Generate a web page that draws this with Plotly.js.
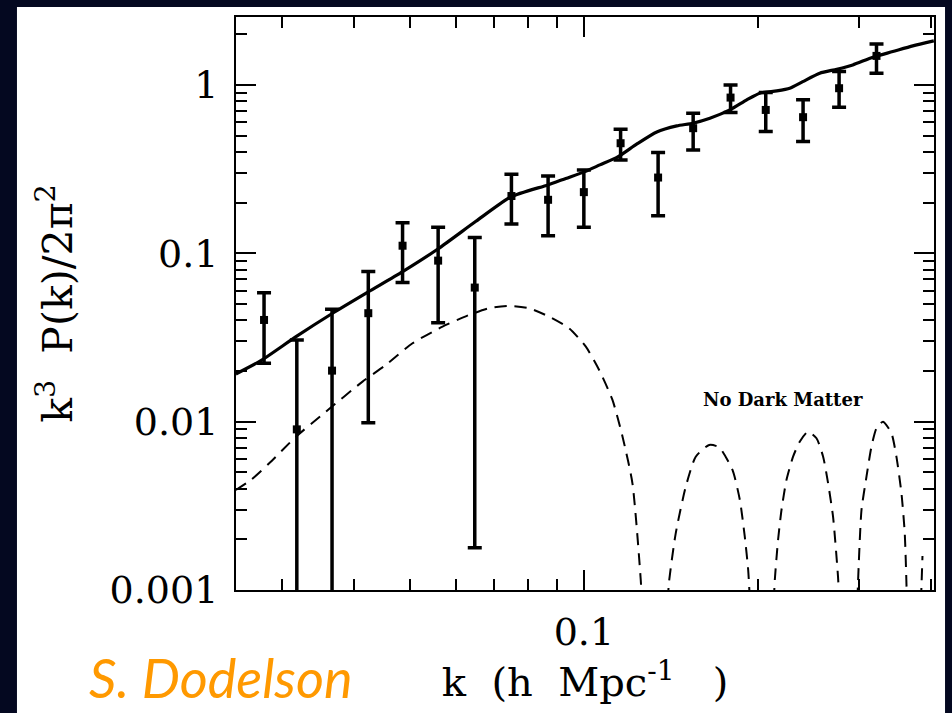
<!DOCTYPE html>
<html>
<head>
<meta charset="utf-8">
<script src="https://cdn.plot.ly/plotly-3.0.1.min.js"></script>
<style>
  html, body { margin: 0; padding: 0; background: #040820; }
  #chart { width: 952px; height: 713px; }
</style>
</head>
<body>
<div id="chart"></div>
<script>
// ---- data points with error bars ----
const kData = [0.0279, 0.0318, 0.0366, 0.0423, 0.0485, 0.0559, 0.0647, 0.0749, 0.0867, 0.100,
               0.1158, 0.1345, 0.1547, 0.1796, 0.2067, 0.2399, 0.2770, 0.3216];
const pData = [0.0402, 0.0090, 0.0201, 0.0441, 0.111, 0.0905, 0.0626, 0.219, 0.208, 0.231,
               0.451, 0.282, 0.554, 0.842, 0.711, 0.644, 0.957, 1.489];
const pUpper = [0.0584, 0.0306, 0.0465, 0.0779, 0.152, 0.143, 0.124, 0.295, 0.288, 0.313,
                0.546, 0.397, 0.680, 1.001, 0.902, 0.816, 1.201, 1.754];
const pLower = [0.0222, 0.0003, 0.0003, 0.00986, 0.0670, 0.0387, 0.00178, 0.1495, 0.127, 0.143,
                0.359, 0.1675, 0.4115, 0.6855, 0.529, 0.461, 0.738, 1.175];

// ---- CDM model (solid curve) ----
const kModel = [0.02493, 0.02755, 0.03170, 0.03668, 0.04228, 0.04851, 0.05592, 0.06499, 0.07471, 0.08662,
                0.09307, 0.1004, 0.1066, 0.1145, 0.1236, 0.1338, 0.1449, 0.1545, 0.1654, 0.1791,
                0.1916, 0.2018, 0.2160, 0.2275, 0.2396, 0.2564, 0.2745, 0.2925, 0.3170, 0.3432,
                0.3717, 0.4043];
const pModel = [0.0192, 0.02305, 0.03199, 0.04406, 0.05898, 0.07785, 0.1065, 0.1550, 0.2163, 0.2549,
                0.2786, 0.3058, 0.3352, 0.3739, 0.4467, 0.5264, 0.5715, 0.5929, 0.6348, 0.7112,
                0.8155, 0.8938, 0.9226, 0.9572, 1.0476, 1.175, 1.2411, 1.3164, 1.4634, 1.5796,
                1.7075, 1.8281];

// ---- No dark matter model (dashed curve), humps separated by null ----
const kNoDM = [0.02493, 0.02647, 0.02848, 0.03170, 0.03571, 0.04134, 0.04537, 0.05047, 0.05689, 0.06327,
               0.06854, 0.07420, 0.08038, 0.08708, 0.09430, 0.1008, 0.1063, 0.1121, 0.1167, 0.1214,
               0.1255, 0.1265, null,
               0.1398, 0.1405, 0.1443, 0.1502, 0.1563, 0.1649, 0.1716, 0.1810, 0.1864, 0.1901,
               0.1927, 0.1940, null,
               0.2135, 0.2143, 0.2171, 0.2201, 0.2245, 0.2305, 0.2367, 0.2447, 0.2531, 0.2599,
               0.2651, 0.2704, 0.2758, 0.2771, null,
               0.2981, 0.2987, 0.3029, 0.3090, 0.3152, 0.3216, 0.3301, 0.3414, 0.3482, 0.3553,
               0.3600, 0.3625, 0.3629, null,
               0.3841, 0.3849, 0.3864];
const pNoDM = [0.003928, 0.004504, 0.005659, 0.008145, 0.01147, 0.01729, 0.02172, 0.02922, 0.03668, 0.04305,
               0.04719, 0.04870, 0.04719, 0.04205, 0.03589, 0.02790, 0.02028, 0.01346, 0.008145, 0.004305,
               0.001147, 0.000663, null,
               0.000872, 0.001120, 0.002172, 0.004109, 0.006194, 0.007271, 0.007045, 0.005164, 0.003425, 0.002073,
               0.001315, 0.000872, null,
               0.000872, 0.001147, 0.001982, 0.002987, 0.004504, 0.006194, 0.007606, 0.008724, 0.007967, 0.006194,
               0.004305, 0.002725, 0.001200, 0.000872, null,
               0.000872, 0.001096, 0.002987, 0.004711, 0.007104, 0.009137, 0.01000, 0.008533, 0.006194, 0.003756,
               0.002172, 0.001071, 0.000872, null,
               0.000872, 0.001071, 0.001592];

// ---- ticks ----
const xMajorTicks = [0.1];
const xMajorText = ['0.1'];
const xMinorTicks = [0.03, 0.04, 0.05, 0.06, 0.07, 0.08, 0.09, 0.2, 0.3, 0.4];
const yMajorTicks = [0.001, 0.01, 0.1, 1];
const yMajorText = ['0.001', '0.01', '0.1', '1'];
const yMinorTicks = [0.002, 0.003, 0.004, 0.005, 0.006, 0.007, 0.008, 0.009,
                     0.02, 0.03, 0.04, 0.05, 0.06, 0.07, 0.08, 0.09,
                     0.2, 0.3, 0.4, 0.5, 0.6, 0.7, 0.8, 0.9, 2];

const errPlus = pData.map((v, i) => pUpper[i] - v);
const errMinus = pData.map((v, i) => v - pLower[i]);

const serif = 'DejaVu Serif, Liberation Serif, serif';
const nb = '\u00A0';

const traces = [
  {
    x: kNoDM, y: pNoDM, type: 'scatter', mode: 'lines',
    line: { color: 'black', width: 2, dash: '12px,8px', shape: 'spline', smoothing: 0.6 },
    connectgaps: false, hoverinfo: 'skip', showlegend: false
  },
  {
    x: kModel, y: pModel, type: 'scatter', mode: 'lines',
    line: { color: 'black', width: 3.2, shape: 'spline', smoothing: 0.6 },
    hoverinfo: 'skip', showlegend: false
  },
  {
    x: kData, y: pData, type: 'scatter', mode: 'markers',
    marker: { symbol: 'square', size: 8, color: 'black' },
    error_y: { type: 'data', symmetric: false, array: errPlus, arrayminus: errMinus,
               color: 'black', thickness: 3.5, width: 7 },
    showlegend: false
  }
];

const layout = {
  width: 952, height: 713,
  margin: { l: 236, r: 18, t: 17, b: 123 },
  paper_bgcolor: '#040820',
  plot_bgcolor: 'white',
  showlegend: false,
  xaxis: {
    type: 'log', range: [-1.603, -0.393],
    tickmode: 'array', tickvals: xMajorTicks, ticktext: xMajorText,
    ticks: 'inside', ticklen: 20, tickwidth: 2, tickcolor: 'black',
    showline: true, linecolor: 'black', linewidth: 2, mirror: 'ticks',
    showgrid: false, zeroline: false,
    tickfont: { family: serif, size: 38, color: 'black' },
    ticklabelstandoff: 7,
    minor: { tickmode: 'array', tickvals: xMinorTicks, ticks: 'inside', ticklen: 11,
             tickwidth: 2, tickcolor: 'black', showgrid: false },
    title: { text: 'k' + nb + nb + '(h' + nb + nb + 'Mpc<sup>-1</sup>' + nb + nb + nb + ')', standoff: 12,
             font: { family: serif, size: 40, color: 'black' } }
  },
  yaxis: {
    type: 'log', range: [-3, 0.404],
    tickmode: 'array', tickvals: yMajorTicks, ticktext: yMajorText,
    ticks: 'inside', ticklen: 20, tickwidth: 2, tickcolor: 'black',
    showline: true, linecolor: 'black', linewidth: 2, mirror: 'ticks',
    showgrid: false, zeroline: false,
    tickfont: { family: serif, size: 38, color: 'black' },
    ticklabelstandoff: 8,
    minor: { tickmode: 'array', tickvals: yMinorTicks, ticks: 'inside', ticklen: 11,
             tickwidth: 2, tickcolor: 'black', showgrid: false },
    title: { text: 'k<sup>3</sup>' + nb + nb + 'P(k)/2\u03C0<sup>2</sup>', standoff: 24,
             font: { family: serif, size: 41, color: 'black' } }
  },
  shapes: [
    { type: 'rect', xref: 'paper', yref: 'paper', layer: 'below',
      x0: -0.3138, x1: 1.0158, y0: -0.22, y1: 1.0175,
      fillcolor: 'white', line: { width: 0 } }
  ],
  annotations: [
    { text: '<b>No Dark Matter</b>', xref: 'paper', yref: 'paper',
      x: 0.784, y: 0.3316, xanchor: 'center', yanchor: 'middle', showarrow: false,
      font: { family: serif, size: 18, color: 'black' } },
    { text: '<i>S. Dodelson</i>', xref: 'paper', yref: 'paper',
      x: -0.2135, y: -0.152, xanchor: 'left', yanchor: 'middle', showarrow: false,
      font: { family: 'Lato, Open Sans, sans-serif', size: 54, color: '#ff9900' } }
  ]
};

Plotly.newPlot('chart', traces, layout, { staticPlot: true, displayModeBar: false });
</script>
</body>
</html>
